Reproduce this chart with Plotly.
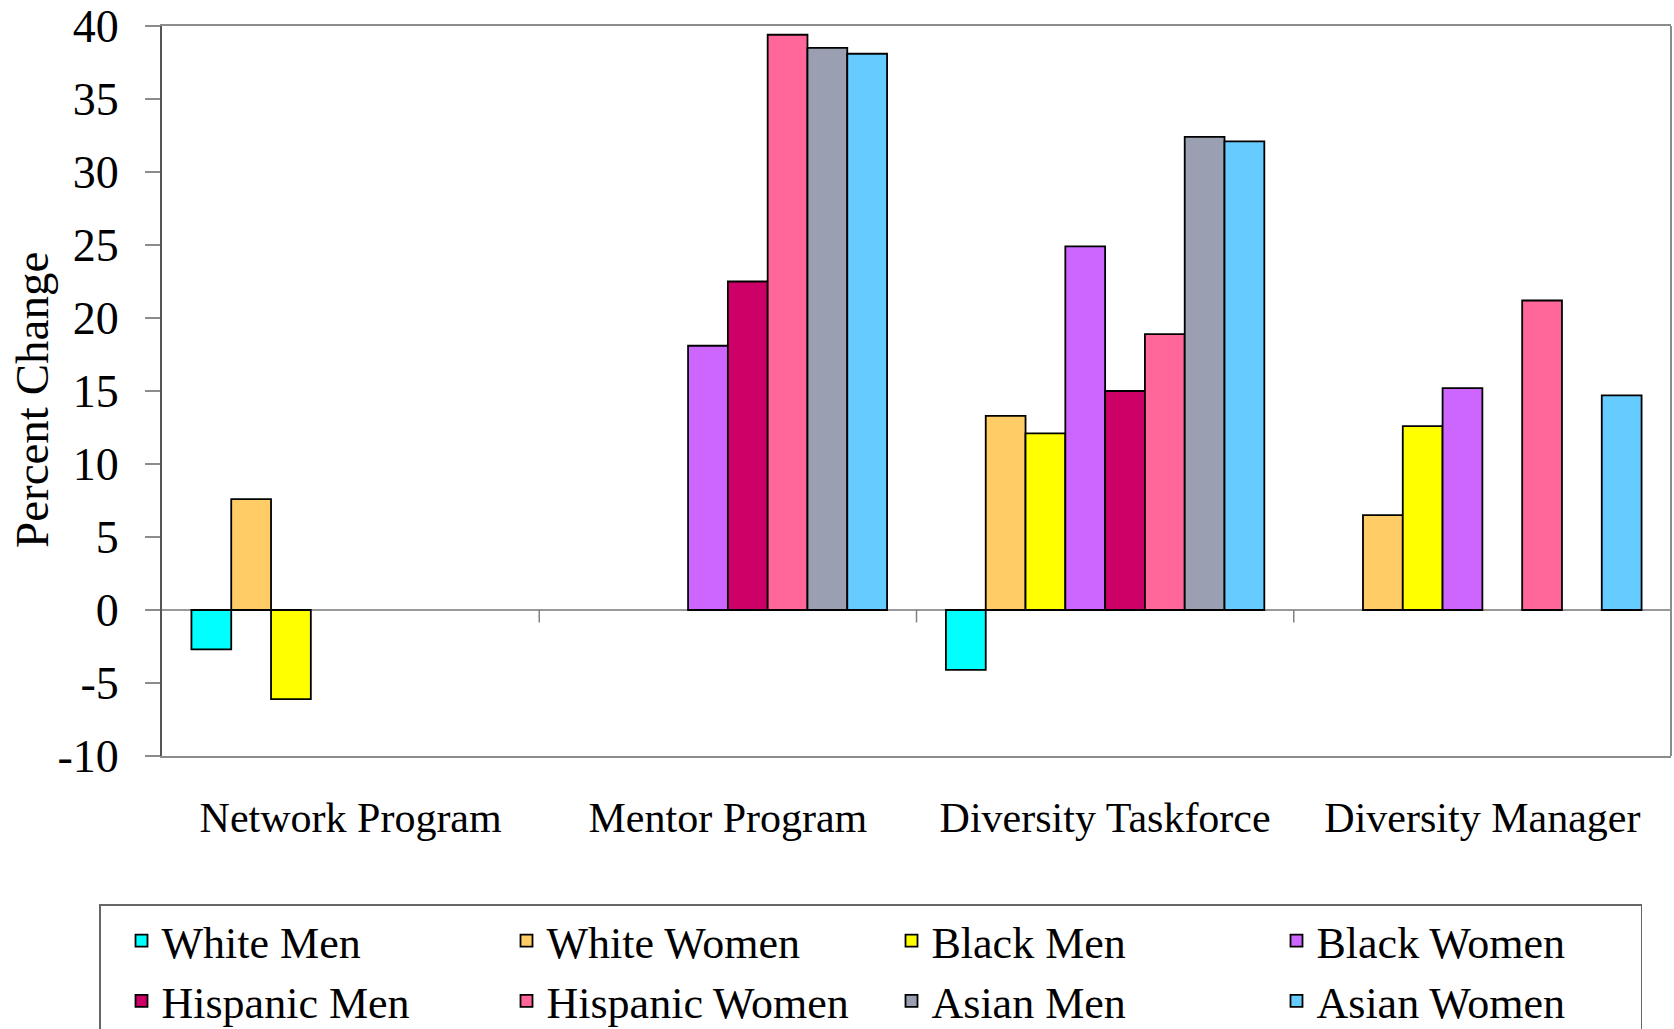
import plotly.graph_objects as go

# Programs on the x axis
programs = ["Network Program", "Mentor Program", "Diversity Taskforce", "Diversity Manager"]

# Percent change in managerial representation by group (None = not shown)
white_men = [-2.7, None, -4.1, None]
white_women = [7.6, None, 13.3, 6.5]
black_men = [-6.1, None, 12.1, 12.6]
black_women = [None, 18.1, 24.9, 15.2]
hispanic_men = [None, 22.5, 15.0, None]
hispanic_women = [None, 39.4, 18.9, 21.2]
asian_men = [None, 38.5, 32.4, None]
asian_women = [None, 38.1, 32.1, 14.7]

series_names = ["White Men", "White Women", "Black Men", "Black Women",
                "Hispanic Men", "Hispanic Women", "Asian Men", "Asian Women"]
series_values = [white_men, white_women, black_men, black_women,
                 hispanic_men, hispanic_women, asian_men, asian_women]
series_colors = ["#00FFFF", "#FFCC66", "#FFFF00", "#CC66FF",
                 "#CC0066", "#FF6699", "#9AA0B2", "#66CCFF"]

# y-axis ticks
y_ticks = [-10, -5, 0, 5, 10, 15, 20, 25, 30, 35, 40]
y_tick_text = ["-10", "-5", "0", "5", "10", "15", "20", "25", "30", "35", "40"]

W, H = 1674, 1029
ML, MR, MT, MB = 162, 3, 26, 273
plot_w = W - ML - MR
plot_h = H - MT - MB

serif = "Liberation Serif, Times New Roman, serif"

fig = go.Figure()
for name, vals, col in zip(series_names, series_values, series_colors):
    fig.add_trace(go.Bar(
        x=programs, y=vals, name=name,
        marker=dict(color=col, line=dict(color="black", width=1.8)),
    ))

# small divider ticks on the zero line between program groups
shapes = []
for i in range(len(programs)):
    shapes.append(dict(type="line", xref="x", yref="y",
                       x0=i + 0.5, x1=i + 0.5, y0=0, y1=-0.85,
                       line=dict(color="#808080", width=1.5)))
# right border of the plot area
shapes.append(dict(type="line", xref="paper", yref="paper",
                   x0=1, x1=1, y0=0, y1=1,
                   line=dict(color="#8c8c8c", width=2)))

fig.update_layout(
    width=W, height=H,
    margin=dict(l=ML, r=MR, t=MT, b=MB, autoexpand=False),
    paper_bgcolor="white", plot_bgcolor="white",
    font=dict(family=serif, color="black"),
    barmode="group", bargap=0.156, bargroupgap=0,
    shapes=shapes,
    showlegend=True,
    legend=dict(
        orientation="h",
        x=(99 - ML) / plot_w, xanchor="left",
        y=(MT + plot_h - 904) / plot_h, yanchor="top",
        entrywidth=319, entrywidthmode="pixels",
        indentation=21,
        bordercolor="#666666", borderwidth=1.5,
        font=dict(family=serif, size=44, color="black"),
        traceorder="normal",
    ),
    annotations=[dict(
        text="Percent Change", xref="paper", yref="paper",
        x=(32 - ML) / plot_w, y=(MT + plot_h - 400) / plot_h,
        xanchor="center", yanchor="middle", textangle=-90, showarrow=False,
        font=dict(family=serif, size=47, color="black"),
    )],
)

fig.update_xaxes(
    type="category", range=[-0.5, 3.5],
    showline=True, linecolor="#8c8c8c", linewidth=2, mirror=True,
    showgrid=False, ticks="", ticklabelstandoff=24,
    tickfont=dict(family=serif, size=42, color="black"),
)
fig.update_yaxes(
    range=[-10, 40], tickvals=y_ticks, ticktext=y_tick_text,
    showline=True, linecolor="#555555", linewidth=2,
    showgrid=False, zeroline=True, zerolinecolor="#999999", zerolinewidth=1.5,
    ticks="outside", ticklen=15, tickcolor="#8c8c8c", tickwidth=1.5,
    ticklabelstandoff=17,
    tickfont=dict(family=serif, size=46, color="black"),
)

fig.write_html("out.html")
